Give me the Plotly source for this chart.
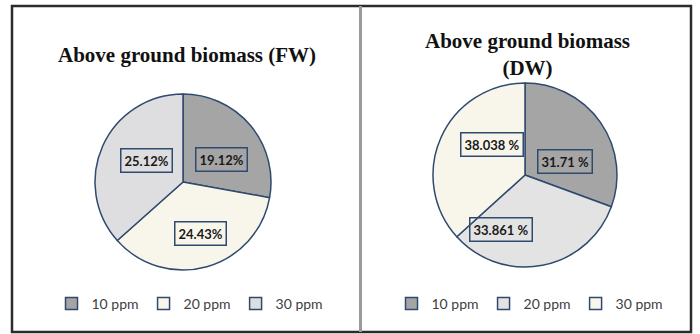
import plotly.graph_objects as go

# Treatment levels shared by both charts
categories = ["10 ppm", "20 ppm", "30 ppm"]

# Percent shares per treatment
fw_values = [19.12, 24.43, 25.12]
dw_values = [31.71, 33.861, 38.038]

fw_title = "Above ground biomass (FW)"
dw_title = "Above ground biomass<br>(DW)"

W, H = 700, 334


def px(x):
    return x / W


def py(y):
    return 1 - y / H


fw_colors = ["#a5a5a5", "#f8f6eb", "#dedee0"]
dw_colors = ["#a5a5a5", "#e3e3e3", "#f8f6eb"]
edge = "#2f4a6e"

fig = go.Figure()

fig.add_trace(go.Pie(
    labels=categories, values=fw_values, sort=False, direction="clockwise",
    rotation=0, textinfo="none", hoverinfo="label+value",
    marker=dict(colors=fw_colors, line=dict(color=edge, width=1.5)),
    domain=dict(x=[px(95), px(271)], y=[py(272), py(92)]),
    legend="legend", legendgroup="fw",
))
fig.add_trace(go.Pie(
    labels=categories, values=dw_values, sort=False, direction="clockwise",
    rotation=0, textinfo="none", hoverinfo="label+value",
    marker=dict(colors=dw_colors, line=dict(color=edge, width=1.5)),
    domain=dict(x=[px(433), px(617)], y=[py(268), py(82)]),
    legend="legend2", legendgroup="dw",
))

# Boxed percentage labels placed inside each slice
fw_label_pos = [(222, 159), (200, 233), (146, 160)]
dw_label_pos = [(565, 161), (501, 229), (492, 144)]

annotations = []
for v, (x, y) in zip(fw_values, fw_label_pos):
    annotations.append(dict(
        text=f"<b>{v}%</b>", x=px(x), y=py(y), xref="paper", yref="paper",
        showarrow=False, xanchor="center", yanchor="middle",
        font=dict(family="Lato", size=13, color="#1a1a1a"),
        bordercolor=edge, borderwidth=1.5, borderpad=3,
    ))
for v, (x, y) in zip(dw_values, dw_label_pos):
    annotations.append(dict(
        text=f"<b>{v} %</b>", x=px(x), y=py(y), xref="paper", yref="paper",
        showarrow=False, xanchor="center", yanchor="middle",
        font=dict(family="Lato", size=13, color="#1a1a1a"),
        bordercolor=edge, borderwidth=1.5, borderpad=3,
    ))

# Chart titles
annotations.append(dict(
    text=f"<b>{fw_title}</b>", x=px(187), y=py(55), xref="paper", yref="paper",
    showarrow=False, xanchor="center", yanchor="middle",
    font=dict(family="Liberation Serif", size=21, color="#111111"),
))
annotations.append(dict(
    text=f"<b>{dw_title}</b>", x=px(527), y=py(54), xref="paper", yref="paper",
    showarrow=False, xanchor="center", yanchor="middle",
    font=dict(family="Liberation Serif", size=21, color="#111111"),
))

legend_style = dict(
    orientation="h", xanchor="center", yanchor="middle", traceorder="normal",
    font=dict(family="Lato", size=14, color="#404040"),
    bgcolor="rgba(0,0,0,0)",
    itemclick=False, itemdoubleclick=False,
)

fig.update_layout(
    width=W, height=H,
    margin=dict(l=0, r=0, t=0, b=0),
    paper_bgcolor="white", plot_bgcolor="white",
    annotations=annotations,
    legend=dict(x=px(190), y=py(304), **legend_style),
    legend2=dict(x=px(530), y=py(304), **legend_style),
    shapes=[
        dict(type="rect", xref="paper", yref="paper",
             x0=px(12), x1=px(691), y0=py(332), y1=py(6),
             line=dict(color="#2b2b2b", width=2.5)),
        dict(type="line", xref="paper", yref="paper",
             x0=px(360.5), x1=px(360.5), y0=py(332), y1=py(6),
             line=dict(color="#9a9a9a", width=3)),
    ],
)

fig.write_html("out.html")
